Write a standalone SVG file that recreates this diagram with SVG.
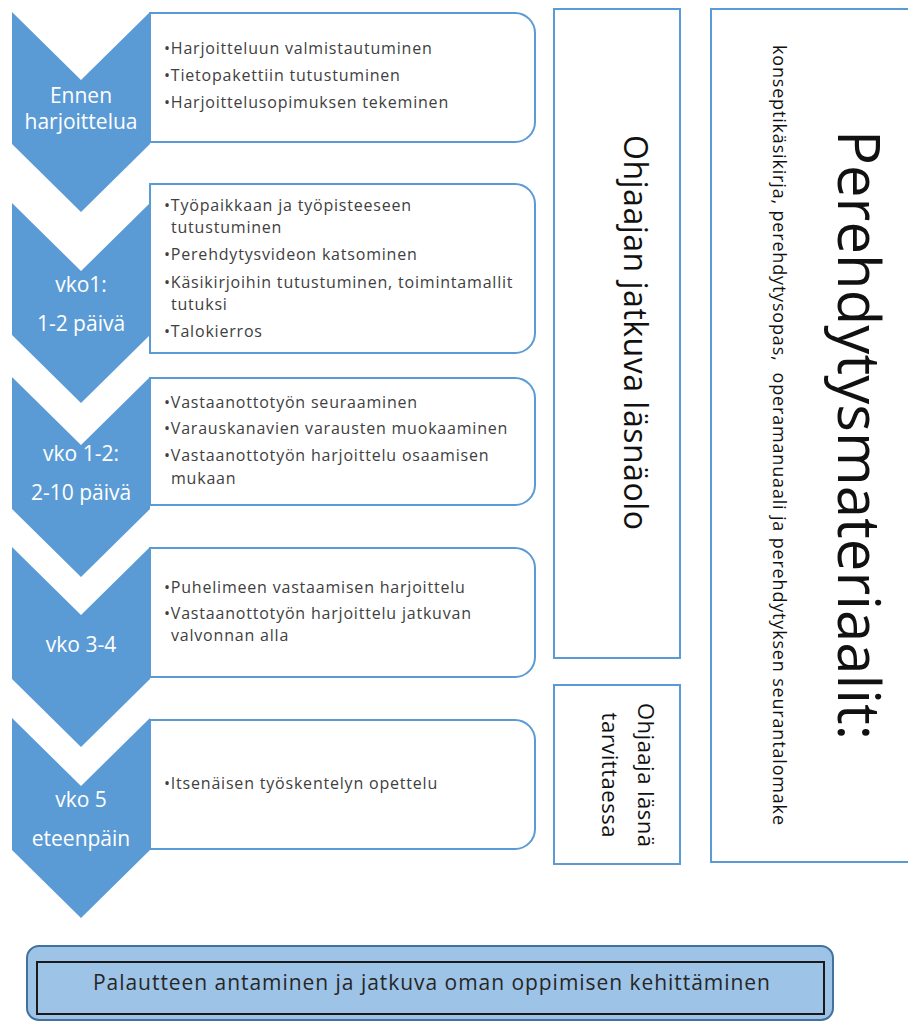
<svg xmlns="http://www.w3.org/2000/svg" width="908" height="1021" viewBox="0 0 908 1021">
<style>
.chev{fill:#5B9BD5;}
.box{fill:#FFFFFF;stroke:#5B9BD5;stroke-width:2;}
.panel{fill:#FFFFFF;stroke:#5B9BD5;stroke-width:2;}
.lbl{font-family:"Open Sans","Noto Sans",sans-serif;font-size:21px;fill:#FFFFFF;text-anchor:middle;}
.bul{font-family:"Open Sans","Noto Sans",sans-serif;font-size:16px;fill:#404040;letter-spacing:0.8px;}
.rot{font-family:"Open Sans","Noto Sans",sans-serif;fill:#111111;white-space:pre;}
.bot{font-family:"Open Sans","Noto Sans",sans-serif;font-size:21px;fill:#262626;}
</style>
<rect width="908" height="1021" fill="#FFFFFF"/>

<g id="step1">
<path class="chev" d="M12,12 L81,80 L150,12 L150,144 L81,212 L12,144 Z"/>
<path class="box" d="M150,13 H515 A20,20 0 0 1 535,33 V122 A20,20 0 0 1 515,142 H150 Z"/>
<text class="lbl" x="81" y="103">Ennen</text>
<text class="lbl" x="81" y="129">harjoittelua</text>
<text class="bul" x="164" y="54">•Harjoitteluun valmistautuminen</text>
<text class="bul" x="164" y="81">•Tietopakettiin tutustuminen</text>
<text class="bul" x="164" y="108">•Harjoittelusopimuksen tekeminen</text>
</g>

<g id="step2">
<path class="chev" d="M12,203 L81,271 L150,203 L150,335 L81,403 L12,335 Z"/>
<path class="box" d="M150,184 H515 A20,20 0 0 1 535,204 V333 A20,20 0 0 1 515,353 H150 Z"/>
<text class="lbl" x="81" y="292">vko1:</text>
<text class="lbl" x="81" y="331">1-2 päivä</text>
<text class="bul" x="164" y="211">•Työpaikkaan ja työpisteeseen</text>
<text class="bul" x="171" y="233">tutustuminen</text>
<text class="bul" x="164" y="260">•Perehdytysvideon katsominen</text>
<text class="bul" x="164" y="288">•Käsikirjoihin tutustuminen, toimintamallit</text>
<text class="bul" x="171" y="310">tutuksi</text>
<text class="bul" x="164" y="337">•Talokierros</text>
</g>

<g id="step3">
<path class="chev" d="M12,377 L81,445 L150,377 L150,509 L81,577 L12,509 Z"/>
<path class="box" d="M150,378 H515 A20,20 0 0 1 535,398 V485 A20,20 0 0 1 515,505 H150 Z"/>
<text class="lbl" x="81" y="461">vko 1-2:</text>
<text class="lbl" x="81" y="500">2-10 päivä</text>
<text class="bul" x="164" y="408">•Vastaanottotyön seuraaminen</text>
<text class="bul" x="164" y="434">•Varauskanavien varausten muokaaminen</text>
<text class="bul" x="164" y="461">•Vastaanottotyön harjoittelu osaamisen</text>
<text class="bul" x="171" y="484">mukaan</text>
</g>

<g id="step4">
<path class="chev" d="M12,547 L81,615 L150,547 L150,679 L81,747 L12,679 Z"/>
<path class="box" d="M150,548 H515 A20,20 0 0 1 535,568 V657 A20,20 0 0 1 515,677 H150 Z"/>
<text class="lbl" x="81" y="652">vko 3-4</text>
<text class="bul" x="164" y="593">•Puhelimeen vastaamisen harjoittelu</text>
<text class="bul" x="164" y="619">•Vastaanottotyön harjoittelu jatkuvan</text>
<text class="bul" x="171" y="641">valvonnan alla</text>
</g>

<g id="step5">
<path class="chev" d="M12,718 L81,786 L150,718 L150,850 L81,918 L12,850 Z"/>
<path class="box" d="M150,720 H515 A20,20 0 0 1 535,740 V829 A20,20 0 0 1 515,849 H150 Z"/>
<text class="lbl" x="81" y="807">vko 5</text>
<text class="lbl" x="81" y="846">eteenpäin</text>
<text class="bul" x="164" y="789">•Itsenäisen työskentelyn opettelu</text>
</g>

<g id="ohjaaja-jatkuva">
<rect class="panel" x="554" y="9" width="126" height="649"/>
<text class="rot" font-size="32" transform="translate(624,135) rotate(90)" textLength="395">Ohjaajan jatkuva läsnäolo</text>
</g>

<g id="ohjaaja-tarvittaessa">
<rect class="panel" x="554" y="685" width="126" height="179"/>
<text class="rot" font-size="22" text-anchor="middle" transform="translate(638,775) rotate(90)" textLength="144">Ohjaaja läsnä</text>
<text class="rot" font-size="22" text-anchor="middle" transform="translate(602,775) rotate(90)" textLength="125">tarvittaessa</text>
</g>

<g id="perehdytysmateriaalit">
<rect class="panel" x="711" y="9" width="210" height="853"/>
<text class="rot" font-size="58" transform="translate(838,130) rotate(90)" textLength="610">Perehdytysmateriaalit:</text>
<text class="rot" font-size="18" transform="translate(773,45) rotate(90)" textLength="780">konseptikäsikirja, perehdytysopas,  operamanuaali ja perehdytyksen seurantalomake</text>
</g>

<g id="palaute">
<rect x="27" y="946" width="806" height="74" rx="12" fill="#9DC3E6" stroke="#41719C" stroke-width="2"/>
<rect x="37" y="962" width="787" height="52" fill="#9DC3E6" stroke="#1A1A1A" stroke-width="2"/>
<text class="bot" x="93" y="990" textLength="677">Palautteen antaminen ja jatkuva oman oppimisen kehittäminen</text>
</g>

<g id="connectors"></g>
</svg>
